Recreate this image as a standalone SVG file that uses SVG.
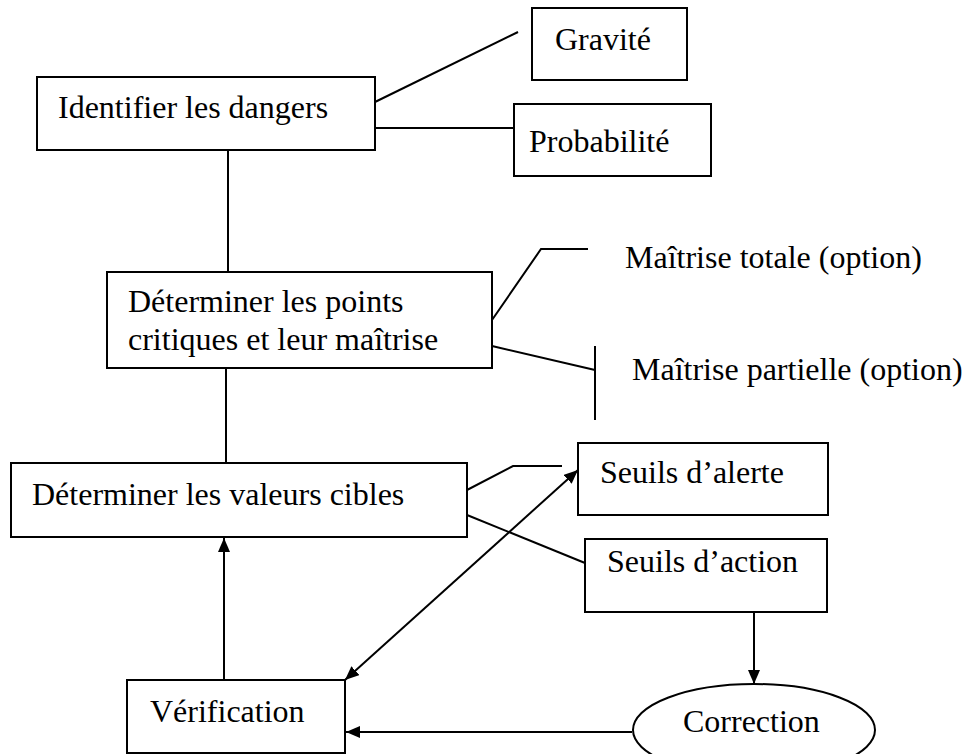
<svg xmlns="http://www.w3.org/2000/svg" width="967" height="754" viewBox="0 0 967 754">
<style>
.box{fill:#fff;stroke:#000;stroke-width:2}
.ln{fill:none;stroke:#000;stroke-width:2}
text{font-family:"Liberation Serif","Times New Roman",serif;font-size:32px;fill:#000}
</style>
<defs>
<marker id="ah" viewBox="0 0 14 12" refX="14" refY="6" markerWidth="14" markerHeight="12" markerUnits="userSpaceOnUse" orient="auto-start-reverse">
<path d="M0,0 L14,6 L0,12 Z" fill="#000"/>
</marker>
</defs>
<rect width="967" height="754" fill="#fff"/>
<g id="connectors">
<line class="ln" x1="375" y1="102" x2="518" y2="32"/>
<line class="ln" x1="375" y1="128" x2="514" y2="128"/>
<line class="ln" x1="228" y1="151" x2="228" y2="272"/>
<polyline class="ln" points="492,320 541,249 588,249"/>
<line class="ln" x1="492" y1="346" x2="595" y2="370"/>
<line class="ln" x1="595" y1="346" x2="595" y2="420"/>
<line class="ln" x1="226" y1="368" x2="226" y2="463"/>
<polyline class="ln" points="467,490 513,466 562,466"/>
<line class="ln" x1="467" y1="515" x2="585" y2="563"/>
<line class="ln" x1="345" y1="680" x2="578" y2="470" marker-start="url(#ah)" marker-end="url(#ah)"/>
<line class="ln" x1="754" y1="612" x2="754" y2="684" marker-end="url(#ah)"/>
<line class="ln" x1="632" y1="732" x2="346" y2="732" marker-end="url(#ah)"/>
<line class="ln" x1="224" y1="680" x2="224" y2="538" marker-end="url(#ah)"/>
</g>
<g id="identifier"><rect class="box" x="37" y="77" width="338" height="73"/><text x="58" y="118">Identifier les dangers</text></g>
<g id="gravite"><rect class="box" x="532" y="8" width="155" height="72"/><text x="555" y="50">Gravité</text></g>
<g id="probabilite"><rect class="box" x="514" y="104" width="197" height="72"/><text x="529" y="152">Probabilité</text></g>
<g id="points"><rect class="box" x="107" y="272" width="385" height="96"/><text x="128" y="312">Déterminer les points</text><text x="128" y="350">critiques et leur maîtrise</text></g>
<g id="totale"><text x="625" y="268">Maîtrise totale (option)</text></g>
<g id="partielle"><text x="632" y="380">Maîtrise partielle (option)</text></g>
<g id="valeurs"><rect class="box" x="11" y="463" width="456" height="74"/><text x="32" y="505">Déterminer les valeurs cibles</text></g>
<g id="alerte"><rect class="box" x="578" y="443" width="250" height="72"/><text x="600" y="483">Seuils d’alerte</text></g>
<g id="action"><rect class="box" x="585" y="539" width="242" height="73"/><text x="607" y="572">Seuils d’action</text></g>
<g id="verification"><rect class="box" x="127" y="680" width="218" height="73"/><text x="150" y="722">Vérification</text></g>
<g id="correction"><ellipse class="box" cx="754" cy="730" rx="121" ry="46"/><text x="683" y="732">Correction</text></g>
</svg>
